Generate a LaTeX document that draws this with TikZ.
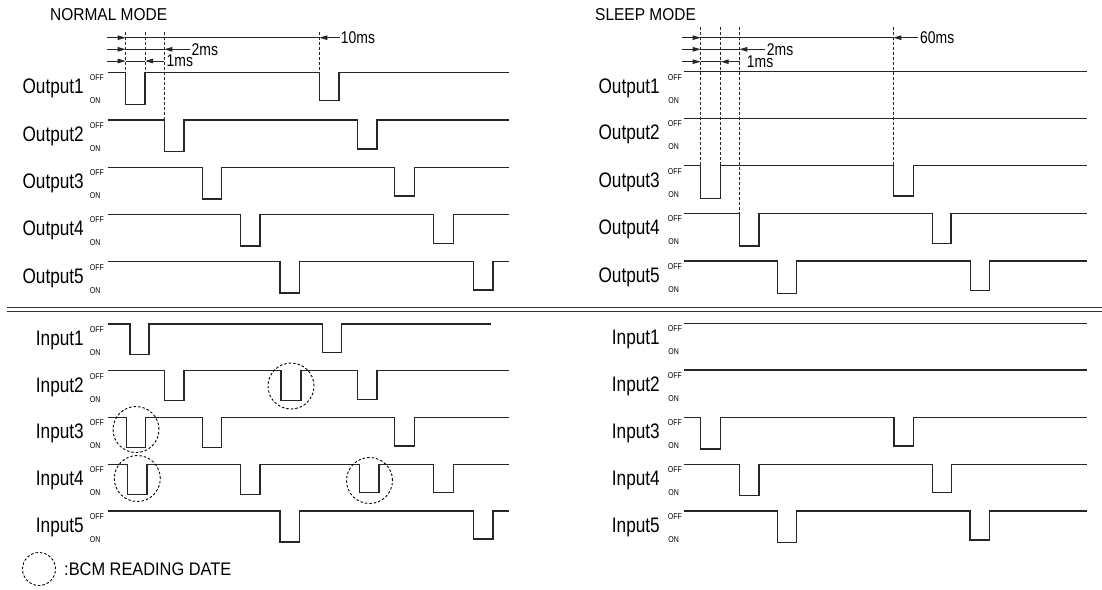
\documentclass[tikz,border=0pt]{standalone}
\usepackage{fontspec}
\newfontfamily\lbl[FakeStretch=0.9]{Liberation Sans}
\newfontfamily\nlbl[FakeStretch=0.82]{Liberation Sans}
\usetikzlibrary{arrows.meta}

\begin{document}
\begin{tikzpicture}[
  x=1pt, y=-1pt,
  sig/.style={line width=1.2pt, black!85, line join=miter},
  tick/.style={dash pattern=on 3pt off 2pt, line width=0.8pt, black!85},
  dim/.style={line width=1pt, black!85, -{Triangle[length=8pt, width=4.5pt]}},
  dimline/.style={line width=1pt, black!85},
  sep/.style={line width=1.3pt, black!80},
  bcm/.style={circle, draw, dash pattern=on 2.5pt off 2pt, line width=0.9pt,
              minimum size=46pt, inner sep=0pt},
  sname/.style={anchor=base east, inner sep=0pt,
                font=\nlbl\fontsize{21}{21}\selectfont},
  lvl/.style={anchor=base east, inner sep=0pt,
              font=\nlbl\fontsize{8.5}{8.5}\selectfont},
  title/.style={anchor=west, inner sep=0pt,
                font=\lbl\fontsize{17.2}{17.2}\selectfont},
  dimtxt/.style={anchor=west, inner sep=0pt,
                 font=\nlbl\fontsize{17}{17}\selectfont}
]
\useasboundingbox (0,0) rectangle (1102,589);
% titles
\node[title] (normal) at (50,15)  {NORMAL MODE};
\node[title] (sleep)  at (595,15) {SLEEP MODE};
% signal names, normal mode
\node[sname] (nO1) at (84,93.8)  {Output1};
\node[sname] (nO2) at (84,141.5) {Output2};
\node[sname] (nO3) at (84,188.8) {Output3};
\node[sname] (nO4) at (84,235.8) {Output4};
\node[sname] (nO5) at (84,283.2) {Output5};
\node[sname] (nI1) at (84,345.5) {Input1};
\node[sname] (nI2) at (84,392.2) {Input2};
\node[sname] (nI3) at (84,438.8) {Input3};
\node[sname] (nI4) at (84,485.8) {Input4};
\node[sname] (nI5) at (84,532.5) {Input5};
% signal names, sleep mode
\node[sname] (sO1) at (660,93.2)  {Output1};
\node[sname] (sO2) at (660,139.8) {Output2};
\node[sname] (sO3) at (660,187.2) {Output3};
\node[sname] (sO4) at (660,234.8) {Output4};
\node[sname] (sO5) at (660,282.5) {Output5};
\node[sname] (sI1) at (660,344.8) {Input1};
\node[sname] (sI2) at (660,391.5) {Input2};
\node[sname] (sI3) at (660,438.8) {Input3};
\node[sname] (sI4) at (660,485.8) {Input4};
\node[sname] (sI5) at (660,532.5) {Input5};
% OFF / ON levels
\foreach \yy in {72.3,120,167.3,214.3,261.7,324,370.7,417.3,464.3,511} {
  \node[lvl] at (104,\yy+8.5) {OFF};
  \node[lvl] at (100.5,\yy+31.3) {ON};
}
\foreach \yy in {71.7,118.3,165.7,213.3,261,323.3,370,417.3,464.3,511} {
  \node[lvl] at (682,\yy+8.5) {OFF};
  \node[lvl] at (679,\yy+31.3) {ON};
}
% outputs, normal mode
\draw[sig] (107.7,72.3) -| (125.7,104.3) -| (145,72.3)
  -| (319.3,100.5) -| (339,72.3) -- (509.3,72.3);
\draw[sig] (107.7,120) -| (164.3,151.7) -| (184,120)
  -| (357.5,149) -| (377,120) -- (509.3,120);
\draw[sig] (107.7,167.3) -| (202.3,199) -| (221.5,167.3)
  -| (394.3,196) -| (414.3,167.3) -- (509.3,167.3);
\draw[sig] (107.7,214.3) -| (240.7,246) -| (260,214.3)
  -| (433.7,243.3) -| (453.3,214.3) -- (509.3,214.3);
\draw[sig] (107.7,261.7) -| (280,293) -| (299.7,261.7)
  -| (473.3,290) -| (493,261.7) -- (509.3,261.7);
% inputs, normal mode
\draw[sig] (107.7,324) -| (130,354.3) -| (149,324)
  -| (322.7,352.3) -| (341.7,324) -- (491,324);
\draw[sig] (107.7,370.7) -| (164.3,400.7) -| (184,370.7)
  -| (281,400.7) -| (301,370.7)
  -| (357.7,399.3) -| (377,370.7) -- (509.3,370.7);
\draw[sig] (107.7,417.3) -| (126.7,447.7) -| (145.3,417.3)
  -| (202.3,447.7) -| (221.3,417.3)
  -| (394.3,446) -| (414.3,417.3) -- (509.3,417.3);
\draw[sig] (107.7,464.3) -| (127.7,494.3) -| (147,464.3)
  -| (240.7,494.3) -| (260,464.3)
  -| (359.3,492.7) -| (379,464.3)
  -| (433.7,492.7) -| (453.3,464.3) -- (509.3,464.3);
\draw[sig] (107.7,511) -| (280,542) -| (299.7,511)
  -| (473.3,539) -| (493,511) -- (509.3,511);
% outputs, sleep mode
\draw[sig] (684,71.7) -- (1086.7,71.7);
\draw[sig] (684,118.3) -- (1086.7,118.3);
\draw[sig] (684,165.7) -| (700.7,198.3) -| (720.7,165.7)
  -| (893.3,196) -| (913.3,165.7) -- (1086.7,165.7);
\draw[sig] (684,213.3) -| (739.3,246) -| (759,213.3)
  -| (932.3,243.3) -| (951,213.3) -- (1086.7,213.3);
\draw[sig] (684,261) -| (777.7,293.3) -| (796.7,261)
  -| (970.5,290.7) -| (989.3,261) -- (1086.7,261);
% inputs, sleep mode
\draw[sig] (684,323.3) -- (1086.7,323.3);
\draw[sig] (684,370) -- (1086.7,370);
\draw[sig] (684,417.3) -| (700.3,449) -| (720.7,417.3)
  -| (894,446) -| (913.3,417.3) -- (1086.7,417.3);
\draw[sig] (684,464.3) -| (739.3,495.7) -| (759,464.3)
  -| (932.3,492.3) -| (951.7,464.3) -- (1086.7,464.3);
\draw[sig] (684,511) -| (777.7,542.3) -| (796.7,511)
  -| (970,540) -| (989.3,511) -- (1086.7,511);
% separator
\draw[sep] (6.7,307.5) -- (1102,307.5);
\draw[sep] (6.7,311.7) -- (1102,311.7);
% timing marks, normal mode
\coordinate (na) at (125.7,31.5);
\coordinate (nb) at (145,31.5);
\coordinate (nc) at (164.3,31.5);
\coordinate (nd) at (319.3,31.5);
\draw[tick] (na) -- (125.7,72.3);
\draw[tick] (nb) -- (145,72.3);
\draw[tick] (nc) -- (164.3,120);
\draw[tick] (nd) -- (319.3,72.3);
\draw[dim] (106.7,37.7) -- (125.7,37.7);
\draw[dimline] (125.7,37.7) -- (319.3,37.7);
\draw[dim] (340,37.7) -- (319.3,37.7);
\node[dimtxt] (n10) at (340.7,37.7) {10ms};
\draw[dim] (106.7,49.3) -- (125.7,49.3);
\draw[dimline] (125.7,49.3) -- (164.3,49.3);
\draw[dim] (190,49.3) -- (164.3,49.3);
\node[dimtxt] (n2) at (191.5,49.3) {2ms};
\draw[dim] (106.7,61) -- (125.7,61);
\draw[dimline] (125.7,61) -- (145,61);
\draw[dim] (163.5,61) -- (145,61);
\node[dimtxt] (n1) at (166.5,61) {1ms};
% timing marks, sleep mode
\coordinate (sa) at (700.7,26.5);
\coordinate (sb) at (720.7,26.5);
\coordinate (sc) at (739.3,26.5);
\coordinate (sd) at (893.3,26.5);
\draw[tick] (sa) -- (700.7,165.7);
\draw[tick] (sb) -- (720.7,165.7);
\draw[tick] (sc) -- (739.3,213.3);
\draw[tick] (sd) -- (893.3,165.7);
\draw[dim] (681.7,37.7) -- (700.7,37.7);
\draw[dimline] (700.7,37.7) -- (893.3,37.7);
\draw[dim] (918,37.7) -- (893.3,37.7);
\node[dimtxt] (s60) at (920,37.7) {60ms};
\draw[dim] (681.7,49.3) -- (700.7,49.3);
\draw[dimline] (700.7,49.3) -- (739.3,49.3);
\draw[dim] (765,49.3) -- (739.3,49.3);
\node[dimtxt] (s2) at (766.7,49.3) {2ms};
\draw[dim] (681.7,61.7) -- (700.7,61.7);
\draw[dimline] (700.7,61.7) -- (720.7,61.7);
\draw[dim] (740,61.7) -- (720.7,61.7);
\node[dimtxt] (s1) at (746.7,61.7) {1ms};
% BCM reading marks
\node[bcm] (r1) at (291,386) {};
\node[bcm] (r2) at (136,429.5) {};
\node[bcm] (r3) at (137.3,478.5) {};
\node[bcm] (r4) at (369.5,480.5) {};
% key
\node[bcm, minimum size=33pt] (key) at (39,569) {};
\node[title, font=\lbl\fontsize{18.2}{18.2}\selectfont] (keytxt)
  at (64,569) {:BCM READING DATE};
\end{tikzpicture}
\end{document}
